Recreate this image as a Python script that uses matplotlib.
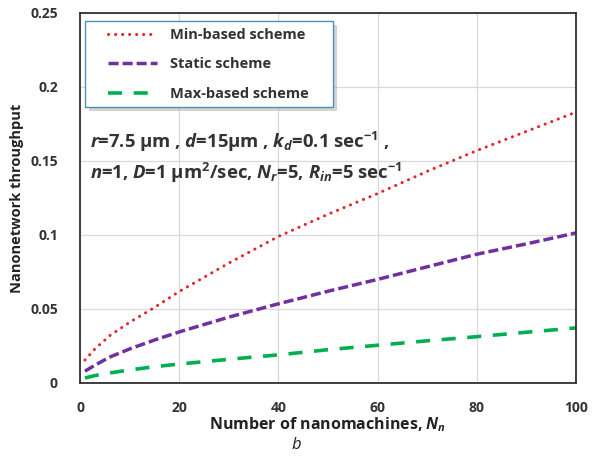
import matplotlib
matplotlib.use('Agg')
import matplotlib.pyplot as plt
from matplotlib.patches import Rectangle
import numpy as np

# data
n_nodes = [1, 3, 6, 10, 15, 20, 30, 40, 50, 60, 70, 80, 90, 100]
min_based = [0.0155, 0.023, 0.032, 0.041, 0.051, 0.0618, 0.081, 0.099, 0.114, 0.128, 0.143, 0.157, 0.170, 0.183]
static = [0.008, 0.012, 0.0175, 0.023, 0.029, 0.0345, 0.0445, 0.0535, 0.062, 0.070, 0.0785, 0.087, 0.094, 0.1014]
max_based = [0.0034, 0.005, 0.0068, 0.0088, 0.011, 0.0128, 0.016, 0.019, 0.0225, 0.0255, 0.0285, 0.0313, 0.0343, 0.0372]

xticks = [0, 20, 40, 60, 80, 100]
yticks = [0, 0.05, 0.1, 0.15, 0.2, 0.25]
ytick_labels = ['0', '0.05', '0.1', '0.15', '0.2', '0.25']

plt.rcParams['font.family'] = 'Open Sans'
plt.rcParams['mathtext.fontset'] = 'custom'
plt.rcParams['mathtext.rm'] = 'Open Sans:bold'
plt.rcParams['mathtext.it'] = 'Open Sans:italic:bold'
plt.rcParams['mathtext.bf'] = 'Open Sans:bold'

txt_col = '#333333'

fig = plt.figure(figsize=(6.02, 4.59), dpi=100)
ax = fig.add_axes([0.1329, 0.1656, 0.8239, 0.8061])

ax.plot(n_nodes, min_based, color='#E3262A', lw=2.2, linestyle=(0, (0.05, 2.25)),
        dash_capstyle='round', label='Min-based scheme')
ax.plot(n_nodes, static, color='#7030A0', lw=2.5, linestyle=(0, (2.9, 1.15)),
        label='Static scheme')
ax.plot(n_nodes, max_based, color='#00B050', lw=2.6, linestyle=(0, (3.9, 3.2)),
        label='Max-based scheme')

ax.set_xlim(0, 100)
ax.set_ylim(0, 0.25)
ax.set_xticks(xticks)
ax.set_yticks(yticks)
ax.set_yticklabels(ytick_labels)
ax.grid(True, color='#D9D9D9', lw=0.9)
ax.set_axisbelow(True)
for s in ax.spines.values():
    s.set_color('#303030')
    s.set_linewidth(1.3)
ax.tick_params(length=0, labelsize=10, colors=txt_col)
ax.tick_params(axis='x', pad=13)
ax.tick_params(axis='y', pad=16)
for lab in ax.get_xticklabels() + ax.get_yticklabels():
    lab.set_fontweight('bold')

ax.set_xlabel('Number of nanomachines, $N_n$', fontsize=11.5, fontweight='bold',
              labelpad=0, color='#222222')
ax.set_ylabel('Nanonetwork throughput', fontsize=10.5, fontweight='bold', labelpad=4,
              color='#222222')

# legend box with shadow
shadow = Rectangle((0.019, 0.735), 0.5, 0.232, transform=ax.transAxes,
                   facecolor='#A8A8A8', edgecolor='none', alpha=0.5, zorder=4)
box = Rectangle((0.011, 0.746), 0.5, 0.232, transform=ax.transAxes,
                facecolor='white', edgecolor='#4F8FB0', lw=1.0, zorder=5)
ax.add_patch(shadow)
ax.add_patch(box)
leg = ax.legend(loc='upper left', bbox_to_anchor=(0.056, 0.96), fontsize=10.5,
                frameon=False, handlelength=3.4, borderpad=0, borderaxespad=0,
                labelspacing=1.07, handletextpad=0.85)
leg.set_zorder(6)
for t in leg.get_texts():
    t.set_fontweight('bold')
    t.set_color(txt_col)

ax.text(0.02, 0.651, r'$r$=7.5 μm , $d$=15μm , $k_d$=0.1 sec$^{-1}$ ,',
        transform=ax.transAxes, fontsize=13.3, fontweight='bold', color=txt_col, va='center')
ax.text(0.02, 0.568, r'$n$=1, $D$=1 μm$^2$/sec, $N_r$=5, $R_{in}$=5 sec$^{-1}$',
        transform=ax.transAxes, fontsize=13.3, fontweight='bold', color=txt_col, va='center')

fig.text(0.4917, 0.022, 'b', fontsize=12, style='italic', ha='center', color='#222222')

fig.savefig('out.png', dpi=100)
